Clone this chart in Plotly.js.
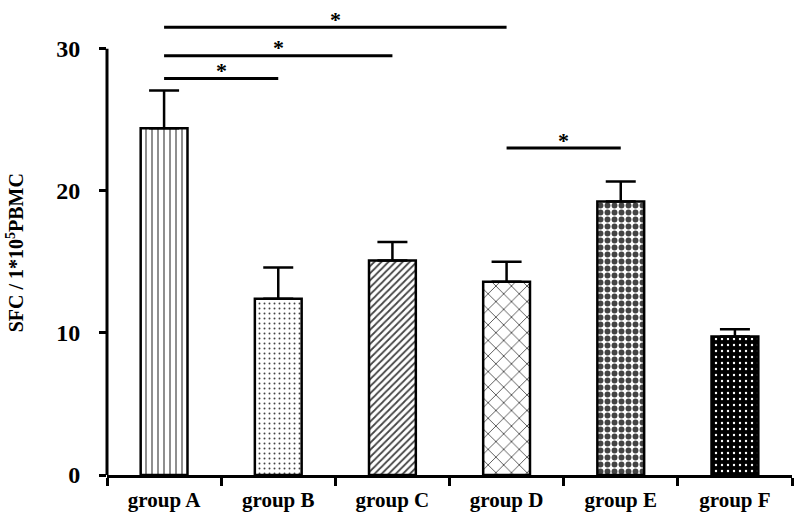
<!DOCTYPE html>
<html>
<head>
<meta charset="utf-8">
<script src="https://cdn.plot.ly/plotly-3.0.1.min.js"></script>
<style>html,body{margin:0;padding:0;background:#fff;}#chart{width:800px;height:517px;}</style>
</head>
<body>
<div id="chart"></div>
<script>
// ---- data ----
var groups = ['group A', 'group B', 'group C', 'group D', 'group E', 'group F'];
var means = [24.4, 12.4, 15.1, 13.6, 19.25, 9.75];
var errUp = [2.65, 2.2, 1.3, 1.4, 1.4, 0.5];
var yTicks = [0, 10, 20, 30];
// significance comparisons (category indices) and bar heights
var sigFrom = [0, 0, 0, 3];
var sigTo = [1, 2, 3, 4];
var sigLevel = [27.9, 29.5, 31.5, 23.0];
var sigLabel = ['*', '*', '*', '*'];

// ---- styles ----
var patShape = ['|', '.', '/', 'x', '.', '.'];
var patFg = ['#a5a5a5', '#9a9a9a', '#6a6a6a', '#8a8a8a', '#000000', '#8a8a8a'];
var patBg = ['#ffffff', '#ffffff', '#ffffff', '#ffffff', '#ffffff', '#000000'];
var patSize = [6, 5, 5, 11, 7, 6];
var patSolid = [0.2, 0.12, 0.35, 0.15, 0.55, 0.12];

var fontFam = '"Liberation Serif", "Times New Roman", serif';

var trace = {
  type: 'bar',
  x: groups,
  y: means,
  width: 0.41,
  marker: {
    color: patBg,
    line: {color: '#000', width: 2.5},
    pattern: {shape: patShape, fgcolor: patFg, bgcolor: patBg, size: patSize, solidity: patSolid, fillmode: 'overlay', fgopacity: 1}
  },
  error_y: {type: 'data', symmetric: false, array: errUp, arrayminus: means.map(function(){return 0;}), color: '#000', thickness: 2.5, width: 15},
  hoverinfo: 'none'
};

var shapes = [{
  type: 'line', xref: 'paper', yref: 'y', x0: 0, x1: 0, y0: 0, y1: yTicks[yTicks.length - 1],
  line: {color: '#000', width: 3}
}];
var annotations = [];
for (var i = 0; i < sigFrom.length; i++) {
  shapes.push({type: 'line', xref: 'x', yref: 'y', x0: sigFrom[i], x1: sigTo[i], y0: sigLevel[i], y1: sigLevel[i], line: {color: '#000', width: 3}});
  annotations.push({xref: 'x', yref: 'y', x: (sigFrom[i] + sigTo[i]) / 2, y: sigLevel[i], text: sigLabel[i], showarrow: false,
    yanchor: 'middle', yshift: 8, font: {family: fontFam, size: 22, color: '#000', weight: 'bold'}});
}
annotations.push({xref: 'paper', yref: 'paper', x: -0.134, y: 0.473, xanchor: 'center', yanchor: 'middle', textangle: -90,
  text: 'SFC / 1*10<sup>5</sup>PBMC', showarrow: false, font: {family: fontFam, size: 20, color: '#000', weight: 'bold'}});

var layout = {
  width: 800, height: 517,
  margin: {l: 107, r: 8, t: 6, b: 42},
  paper_bgcolor: '#fff', plot_bgcolor: '#fff',
  showlegend: false,
  xaxis: {
    type: 'category', range: [-0.5, 5.5], showline: true, linecolor: '#000', linewidth: 3,
    ticks: 'outside', tickson: 'boundaries', ticklen: 8, tickwidth: 3, tickcolor: '#000',
    showgrid: false, zeroline: false, ticklabelstandoff: 4,
    tickfont: {family: fontFam, size: 21, color: '#000', weight: 'bold'}
  },
  yaxis: {
    range: [0, 33], tickvals: yTicks, ticktext: yTicks.map(String), showline: false, showgrid: false, zeroline: false,
    ticks: 'outside', ticklen: 7, tickwidth: 3, tickcolor: '#000', ticklabelstandoff: 14,
    tickfont: {family: fontFam, size: 24, color: '#000', weight: 'bold'}
  },
  shapes: shapes,
  annotations: annotations
};

Plotly.newPlot('chart', [trace], layout, {displayModeBar: false, staticPlot: true});
</script>
</body>
</html>
